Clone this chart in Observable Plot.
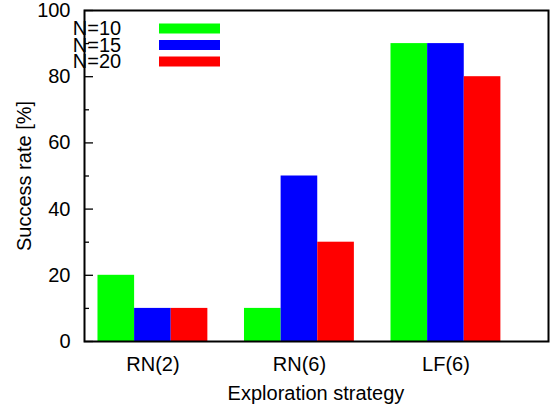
<!DOCTYPE html>
<html><head><meta charset="utf-8">
<script src="https://cdn.jsdelivr.net/npm/d3@7"></script>
<script src="https://cdn.jsdelivr.net/npm/@observablehq/plot@0.6"></script>
<style>body{margin:0;background:#fff} svg{display:block}</style>
</head><body><div id="chart"></div>
<script>
const categories = ["RN(2)", "RN(6)", "LF(6)"];
const seriesNames = ["N=10", "N=15", "N=20"];
const seriesColors = ["#00ff00", "#0000ff", "#ff0000"];
const n10 = [20, 10, 90];
const n15 = [10, 50, 90];
const n20 = [10, 30, 80];
const yMajorTicks = [0, 20, 40, 60, 80, 100];
const yMinorTicks = [10, 30, 50, 70, 90];
const xLabel = "Exploration strategy";
const yLabel = "Success rate [%]";

const seriesValues = [n10, n15, n20];
const barW = 0.25;
const bars = [];
categories.forEach((c, i) => {
  seriesValues.forEach((vals, j) => {
    const x1 = i - 1.5 * barW + j * barW;
    bars.push({cat: c, series: seriesNames[j], value: vals[i], x1, x2: x1 + barW});
  });
});

const FONT = "'Liberation Sans', Arial, Helvetica, sans-serif";
const chart = Plot.plot({
  width: 555, height: 410,
  marginLeft: 84, marginRight: 7, marginTop: 10, marginBottom: 69,
  style: {fontFamily: FONT, fontSize: "20px", background: "#fff", color: "#000"},
  x: {type: "linear", domain: [-0.467, 2.70]},
  y: {domain: [0, 100]},
  color: {domain: seriesNames, range: seriesColors},
  marks: [
    Plot.rectY(bars, {x1: "x1", x2: "x2", y1: 0, y2: "value", fill: "series"}),
    Plot.axisY({ticks: yMajorTicks, tickSize: 0, tickPadding: 14, label: null}),
    Plot.axisY({ticks: yMajorTicks, tickSize: 9, dx: 9, text: null, label: null, strokeWidth: 1.3}),
    Plot.axisY({ticks: yMinorTicks, tickSize: 5, dx: 5, text: null, label: null, strokeWidth: 1.3}),
    Plot.axisX({ticks: [0, 1, 2], tickFormat: i => categories[i], tickSize: 0, tickPadding: 15, label: null}),
    Plot.frame({stroke: "#000", strokeWidth: 2})
  ]
});
document.getElementById("chart").appendChild(chart);

const svg = d3.select(chart);
svg.append("text")
  .attr("x", 316).attr("y", 400)
  .attr("text-anchor", "middle")
  .attr("font-family", FONT).attr("font-size", 20)
  .text(xLabel);
svg.append("text")
  .attr("transform", "translate(31,176) rotate(-90)")
  .attr("text-anchor", "middle")
  .attr("font-family", FONT).attr("font-size", 20)
  .text(yLabel);

const leg = svg.append("g");
seriesNames.forEach((s, j) => {
  const base = 35 + j * 16.5;
  leg.append("text")
    .attr("x", 97).attr("y", base)
    .attr("font-family", FONT).attr("font-size", 20)
    .text(s);
  leg.append("rect")
    .attr("x", 159).attr("y", base - 11.5)
    .attr("width", 61).attr("height", 10)
    .attr("fill", seriesColors[j]);
});
</script>
</body></html>
